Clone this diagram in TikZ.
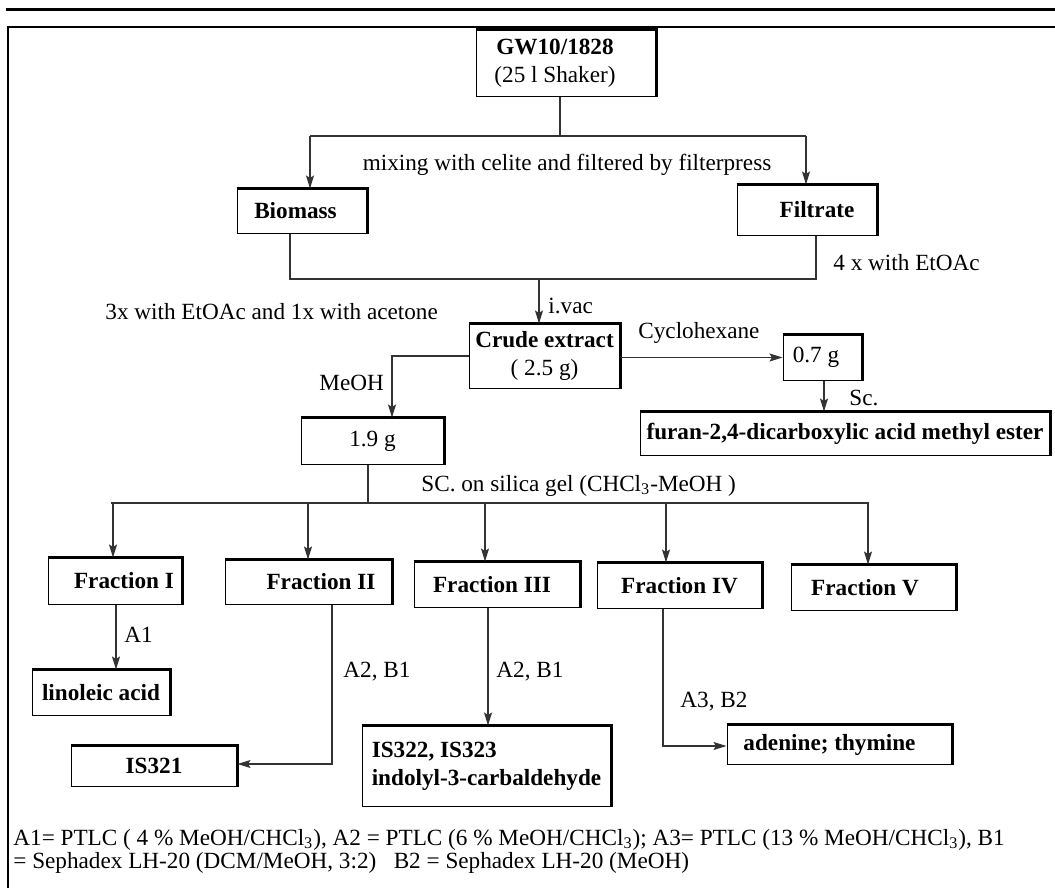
\documentclass[tikz,border=0pt]{standalone}
\usepackage{fontspec}
\setmainfont{Liberation Serif}
\usetikzlibrary{arrows.meta}
\begin{document}
\begin{tikzpicture}[x=0.5pt,y=-0.5pt,
  every node/.style={font=\fontsize{11.6pt}{14pt}\selectfont, inner sep=0pt},
  bx/.style 2 args={draw, line width=0.5pt, minimum width=#1*0.5pt, minimum height=#2*0.5pt},
  lbl/.style={anchor=west},
  fnote/.style={anchor=base west},
  conn/.style={line width=0.6pt, draw=black!80},
  arr/.style={conn, -{Stealth[length=6.5pt,width=4pt,inset=1.2pt]}},
  heavy/.style={line width=1.5pt}]
\useasboundingbox (0,0) rectangle (1055,888);
% frame
\draw[line width=1.5pt] (6,9.5) -- (1055,9.5);
\draw[line width=1.2pt] (8,888) -- (8,27) -- (1055,27);
% boxes
\node[bx={180}{67}, align=center] (gw) at (566,63.5) {\textbf{GW10/1828}\hspace*{11pt}\\(25 l Shaker)\hspace*{11pt}};
\node[bx={130}{44}] (bio) at (302,211) {\textbf{Biomass}\hspace*{6.5pt}};
\node[bx={140}{50}] (fil) at (807,210) {\hspace*{10pt}\textbf{Filtrate}};
\node[bx={151}{64}, align=center] (crude) at (544.5,356) {\textbf{Crude extract}\\( 2.5 g)};
\node[bx={79}{45}] (g07) at (822.5,357.5) {0.7 g\hspace*{6.5pt}};
\node[bx={410}{43}] (furan) at (845,433.5) {\textbf{furan-2,4-dicarboxylic acid methyl ester}};
\node[bx={143}{46}] (g19) at (372.5,441) {1.9 g};
\node[bx={134}{46}] (f1) at (115,581) {\hspace*{9pt}\textbf{Fraction I}};
\node[bx={167}{44}] (f2) at (308.5,582) {\hspace*{12.5pt}\textbf{Fraction II}};
\node[bx={166}{45}] (f3) at (497,584.5) {\textbf{Fraction III}\hspace*{5pt}};
\node[bx={165}{45}] (f4) at (679.5,585.5) {\textbf{Fraction IV}};
\node[bx={165}{45}] (f5) at (873.5,587.5) {\raisebox{-6pt}{\textbf{Fraction V}}\hspace*{8.5pt}};
\node[bx={138}{45}] (lin) at (101,692.5) {\textbf{linoleic acid}};
\node[bx={166}{40}] (isa) at (154,766) {\textbf{IS321}};
\node[bx={249}{80}, align=left] (isb) at (486.5,766) {\textbf{IS322, IS323}\\\textbf{indolyl-3-carbaldehyde}};
\node[bx={225}{39}] (aden) at (839.5,744.5) {\textbf{adenine; thymine}\hspace*{10pt}};
\foreach \n in {gw,bio,fil,crude,g07,furan,g19,f1,f2,f3,f4,f5,lin,isa,isb,aden}
  \draw[heavy] (\n.north west) -- (\n.north east) -- (\n.south east);
% connectors
\coordinate (j1) at (560,136); \coordinate (jl) at (310,136); \coordinate (jr) at (806,136);
\draw[conn] (j1 |- gw.south) -- (j1);
\draw[conn] (jl) -- (jr);
\draw[arr] (jl) -- (jl |- bio.north);
\draw[arr] (jr) -- (jr |- fil.north);
\coordinate (k1) at (290,279); \coordinate (k2) at (816,279); \coordinate (k3) at (539,279);
\draw[conn] (k1 |- bio.south) -- (k1) -- (k2) -- (k2 |- fil.south);
\draw[arr] (k3) -- (k3 |- crude.north);
\draw[arr] (g07.west -| crude.east) -- (g07.west);
\coordinate (m1) at (824,0);
\draw[arr] (m1 |- g07.south) -- (m1 |- furan.north);
\coordinate (m2) at (392,0);
\draw[arr] (crude.west) -- (crude.west -| m2) -- (m2 |- g19.north);
\coordinate (n1) at (368,503); \coordinate (nl) at (111,503); \coordinate (nr) at (869,503);
\draw[conn] (n1 |- g19.south) -- (n1);
\draw[conn] (nl) -- (nr);
\coordinate (a1) at (113,503); \coordinate (a2) at (308,503); \coordinate (a3) at (485,503);
\coordinate (a4) at (666,503); \coordinate (a5) at (868,503);
\draw[arr] (a1) -- (a1 |- f1.north);
\draw[arr] (a2) -- (a2 |- f2.north);
\draw[arr] (a3) -- (a3 |- f3.north);
\draw[arr] (a4) -- (a4 |- f4.north);
\draw[arr] (a5) -- (a5 |- f5.north);
\coordinate (b1) at (116,0);
\draw[arr] (b1 |- f1.south) -- (b1 |- lin.north);
\coordinate (b2) at (332,764);
\draw[arr] (b2 |- f2.south) -- (b2) -- (b2 -| isa.east);
\coordinate (b3) at (488,0);
\draw[arr] (b3 |- f3.south) -- (b3 |- isb.north);
\coordinate (b4) at (663,746);
\draw[arr] (b4 |- f4.south) -- (b4) -- (b4 -| aden.west);
% labels
\node (t1) at (567,165) {mixing with celite and filtered by filterpress};
\node[lbl] (t2) at (833,263) {4 x with EtOAc};
\node[lbl] (t3) at (105,312) {3x with EtOAc and 1x with acetone};
\node[lbl] (t4) at (548,306) {i.vac};
\node[lbl] (t5) at (638,333) {Cyclohexane};
\node[lbl] (t6) at (849,398) {Sc.};
\node[lbl] (t7) at (319,383) {MeOH};
\node[fnote] (t8) at (421,491) {SC. on silica gel (CHCl\textsubscript{3}-MeOH )};
\node[lbl] (t9) at (124,635) {A1};
\node[lbl] (t10) at (343,672) {A2, B1};
\node[lbl] (t11) at (496,672) {A2, B1};
\node[lbl] (t12) at (680,702) {A3, B2};
\node[fnote] (fn1) at (13,845) {A1= PTLC ( 4 \% MeOH/CHCl\textsubscript{3}), A2 = PTLC (6 \% MeOH/CHCl\textsubscript{3}); A3= PTLC (13 \% MeOH/CHCl\textsubscript{3}), B1};
\node[fnote] (fn2) at (13,868) {= Sephadex LH-20 (DCM/MeOH, 3:2)\ \ \ B2 = Sephadex LH-20 (MeOH)};
\end{tikzpicture}
\end{document}
